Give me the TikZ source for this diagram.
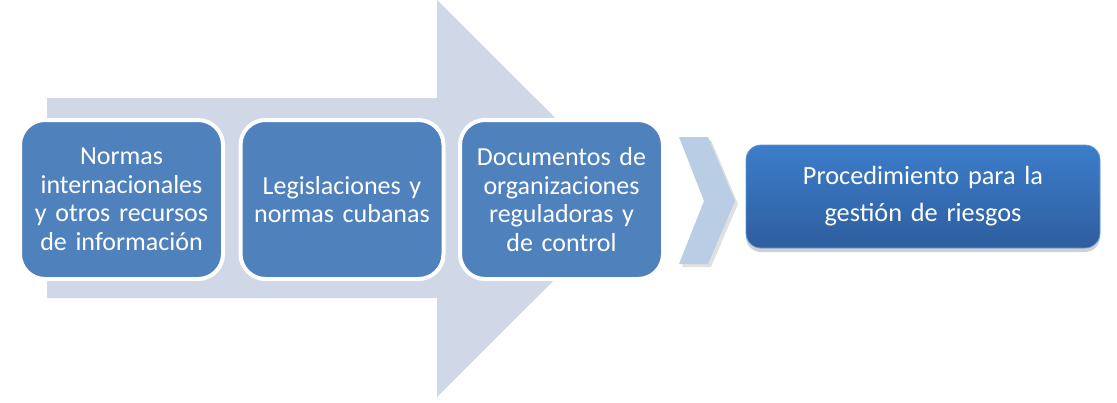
\documentclass[tikz,border=0pt]{standalone}
\usepackage{fontspec}
\setmainfont[WordSpace=0.8]{Carlito}
\usetikzlibrary{shadows,shadings}
\definecolor{arrowgray}{HTML}{D0D8E8}
\definecolor{boxblue}{HTML}{4F81BD}
\definecolor{chevblue}{HTML}{B9CDE5}
\definecolor{finaltop}{HTML}{3C7DCA}
\definecolor{finalbot}{HTML}{2E5E9E}
\tikzset{
  stagebox/.style={draw=white, line width=4pt, fill=boxblue, rounded corners=25pt,
    minimum width=203pt, minimum height=159pt, text width=195pt, align=center,
    text=white, font=\fontsize{26}{28.5}\selectfont, inner sep=0pt},
  resultbox/.style={rounded corners=15pt, top color=finaltop, bottom color=finalbot,
    draw=finaltop!80!white, line width=0.8pt,
    minimum width=354pt, minimum height=103pt, text width=330pt, align=center,
    text=white, font=\fontsize{26.3}{37}\selectfont, inner sep=0pt,
    drop shadow={shadow xshift=0pt, shadow yshift=-4pt, opacity=0.3, fill=black!60}},
  chevronshape/.style={fill=chevblue,
    drop shadow={shadow xshift=3pt, shadow yshift=-3pt, opacity=0.2, fill=black!60}},
}
\begin{document}
\begin{tikzpicture}[x=1pt,y=-1pt]
\useasboundingbox (0,0) rectangle (1117,402);
% big background arrow
\fill[arrowgray] (47,98) -- (437,98) -- (437,0) -- (636,198.5) -- (437,397) -- (437,298) -- (47,298) -- cycle;
% stages
\node[stagebox] (n1) at (121.5,199.5) {Normas\\internacionales\\y otros recursos\\de información};
\node[stagebox] (n2) at (342,199.5) {Legislaciones y\\normas cubanas};
\node[stagebox] (n3) at (561.5,199.5) {Documentos de\\organizaciones\\reguladoras y\\de control};
% chevron
\path[chevronshape] (679,137) -- (708,137) -- (735,201) -- (708,264) -- (679,264) -- (704,201) -- cycle;
% result
\node[resultbox] (r) at (923,196.5) {Procedimiento para la\\gestión de riesgos};
\end{tikzpicture}
\end{document}
